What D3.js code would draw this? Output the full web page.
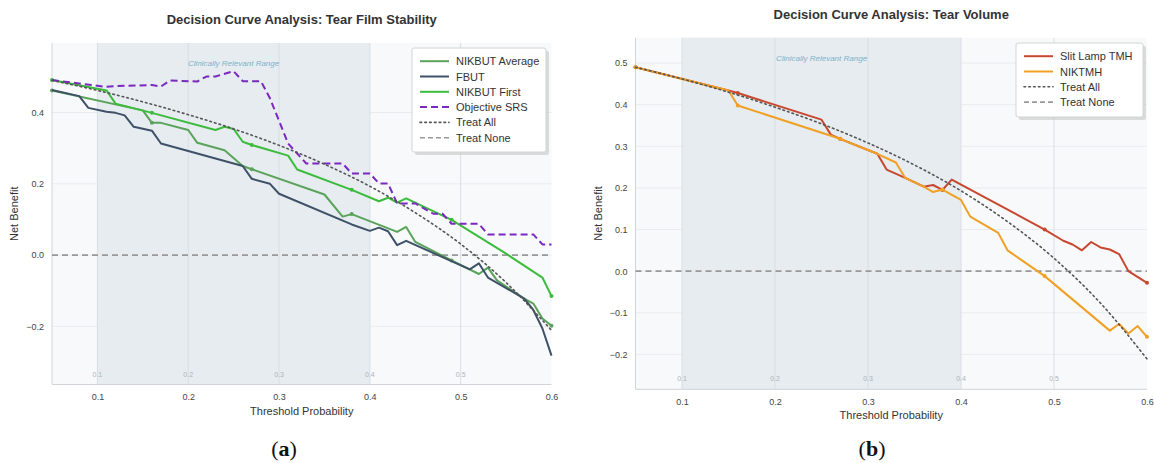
<!DOCTYPE html>
<html>
<head>
<meta charset="utf-8">
<script src="https://cdn.jsdelivr.net/npm/d3@7"></script>
<style>
  body { margin: 0; background: #fff; }
  svg { font-family: "Liberation Sans", Arial, sans-serif; }
</style>
</head>
<body>
<div id="chart"></div>
<script>
// Decision curve analysis, two panels

// threshold ticks shared by both panels
const xTicks = [0.1, 0.2, 0.3, 0.4, 0.5, 0.6];
const bandRange = [0.1, 0.4];

// panel (a): tear film stability, [threshold, net benefit]
const nikbutAverage = [
  [0.05, 0.462], [0.15, 0.406], [0.16, 0.371], [0.17, 0.371], [0.20, 0.351], [0.21, 0.315],
  [0.24, 0.294], [0.26, 0.250], [0.27, 0.241], [0.35, 0.170], [0.37, 0.108], [0.38, 0.115],
  [0.43, 0.065], [0.44, 0.079], [0.45, 0.037], [0.49, -0.015], [0.52, -0.053], [0.53, -0.035],
  [0.54, -0.071], [0.57, -0.122], [0.58, -0.136], [0.59, -0.178], [0.60, -0.198]
];
const fbut = [
  [0.05, 0.463], [0.08, 0.446], [0.09, 0.413], [0.11, 0.402], [0.12, 0.399], [0.13, 0.392],
  [0.14, 0.360], [0.16, 0.349], [0.17, 0.313], [0.26, 0.250], [0.27, 0.214], [0.29, 0.200],
  [0.30, 0.172], [0.38, 0.086], [0.40, 0.068], [0.41, 0.077], [0.42, 0.067], [0.43, 0.028],
  [0.44, 0.040], [0.51, -0.040], [0.52, -0.023], [0.53, -0.063], [0.57, -0.122], [0.58, -0.154],
  [0.59, -0.206], [0.60, -0.282]
];
const nikbutFirst = [
  [0.05, 0.491], [0.11, 0.462], [0.12, 0.425], [0.16, 0.399], [0.23, 0.351], [0.24, 0.360],
  [0.25, 0.354], [0.26, 0.318], [0.27, 0.309], [0.31, 0.279], [0.32, 0.240], [0.38, 0.183],
  [0.41, 0.151], [0.42, 0.161], [0.43, 0.147], [0.44, 0.159], [0.49, 0.099], [0.55, 0.004],
  [0.59, -0.063], [0.60, -0.115]
];
const objectiveSRS = [
  [0.05, 0.491], [0.10, 0.475], [0.11, 0.472], [0.12, 0.474], [0.16, 0.477], [0.17, 0.473],
  [0.18, 0.490], [0.21, 0.487], [0.22, 0.501], [0.23, 0.501], [0.25, 0.516], [0.26, 0.488],
  [0.28, 0.488], [0.29, 0.440], [0.31, 0.313], [0.33, 0.257], [0.37, 0.257], [0.38, 0.229],
  [0.40, 0.229], [0.41, 0.201], [0.42, 0.201], [0.43, 0.145], [0.45, 0.145], [0.47, 0.116],
  [0.48, 0.116], [0.49, 0.088], [0.52, 0.088], [0.53, 0.058], [0.58, 0.058], [0.59, 0.030],
  [0.60, 0.030]
];
// treat-all reference (same prevalence in both panels)
const treatAll = [
  [0.05, 0.490], [0.10, 0.462], [0.15, 0.430], [0.20, 0.394], [0.25, 0.354], [0.30, 0.308],
  [0.35, 0.255], [0.40, 0.193], [0.45, 0.119], [0.50, 0.031], [0.55, -0.077], [0.60, -0.211]
];
const treatNone = [[0.05, 0], [0.60, 0]];

// panel (b): tear volume
const slitLampTMH = [
  [0.05, 0.490], [0.15, 0.434], [0.16, 0.428], [0.25, 0.364], [0.26, 0.328], [0.27, 0.318],
  [0.31, 0.282], [0.32, 0.244], [0.34, 0.224], [0.36, 0.203], [0.37, 0.207], [0.38, 0.195],
  [0.39, 0.220], [0.49, 0.100], [0.51, 0.073], [0.52, 0.064], [0.53, 0.050], [0.54, 0.070],
  [0.55, 0.057], [0.56, 0.052], [0.57, 0.041], [0.58, 0.000], [0.60, -0.028]
];
const niktmh = [
  [0.05, 0.490], [0.15, 0.434], [0.16, 0.398], [0.27, 0.318], [0.31, 0.282], [0.33, 0.261],
  [0.34, 0.224], [0.36, 0.203], [0.37, 0.190], [0.38, 0.196], [0.40, 0.171], [0.41, 0.131],
  [0.44, 0.092], [0.45, 0.050], [0.49, -0.012], [0.56, -0.143], [0.57, -0.127], [0.58, -0.150],
  [0.59, -0.132], [0.60, -0.158]
];

// thresholds where the solid curves carry a small marker
const markerT = [0.05, 0.16, 0.27, 0.38, 0.49, 0.60];

const yTicksA = [-0.2, 0.0, 0.2, 0.4];
const yTicksB = [-0.2, -0.1, 0.0, 0.1, 0.2, 0.3, 0.4, 0.5];

const panels = [
  {
    title: 'Decision Curve Analysis: Tear Film Stability', tag: 'a',
    left: 52, right: 551.5, top: 43, bottom: 384.5, titleY: 23.5, yDomain: [-0.363, 0.595],
    yTicks: yTicksA, tagX: 284,
    legend: { x: 412, y: 48, w: 134, h: 104 },
    series: [
      { name: 'NIKBUT Average', data: nikbutAverage, color: '#5aa35a', dash: null, marks: true },
      { name: 'FBUT', data: fbut, color: '#3f5168', dash: null, marks: false },
      { name: 'NIKBUT First', data: nikbutFirst, color: '#3cbc3c', dash: null, marks: true },
      { name: 'Objective SRS', data: objectiveSRS, color: '#7a28bf', dash: '7,4', marks: false }
    ]
  },
  {
    title: 'Decision Curve Analysis: Tear Volume', tag: 'b',
    left: 635.5, right: 1147, top: 37.7, bottom: 389.3, titleY: 18.5, yDomain: [-0.284, 0.561],
    yTicks: yTicksB, tagX: 872,
    legend: { x: 1016, y: 43, w: 127, h: 74 },
    series: [
      { name: 'Slit Lamp TMH', data: slitLampTMH, color: '#c8472f', dash: null, marks: true },
      { name: 'NIKTMH', data: niktmh, color: '#f0a024', dash: null, marks: true }
    ]
  }
];

const svg = d3.select('#chart').append('svg')
  .attr('width', 1154)
  .attr('height', 463);

panels.forEach(p => {
  const x = d3.scaleLinear().domain([0.05, 0.6]).range([p.left, p.right]);
  const y = d3.scaleLinear().domain(p.yDomain).range([p.bottom, p.top]);
  const g = svg.append('g');

  // plot background and clinically relevant band
  g.append('rect')
    .attr('x', p.left).attr('y', p.top)
    .attr('width', p.right - p.left).attr('height', p.bottom - p.top)
    .attr('fill', '#f8f9fa');
  g.append('rect')
    .attr('x', x(bandRange[0])).attr('y', p.top)
    .attr('width', x(bandRange[1]) - x(bandRange[0])).attr('height', p.bottom - p.top)
    .attr('fill', '#e6ecf0');

  // grid
  g.selectAll('.hgrid').data(p.yTicks).enter().append('line')
    .attr('x1', p.left).attr('x2', p.right)
    .attr('y1', d => y(d)).attr('y2', d => y(d))
    .attr('stroke', '#e9ecef').attr('stroke-width', 1);
  g.selectAll('.vgrid').data(xTicks.slice(0, 5)).enter().append('line')
    .attr('x1', d => x(d)).attr('x2', d => x(d))
    .attr('y1', p.top).attr('y2', p.bottom)
    .attr('stroke', '#d9dee3').attr('stroke-width', 1);

  // faint labels inside the plot, near the bottom
  g.selectAll('.inner').data(xTicks.slice(0, 5)).enter().append('text')
    .attr('x', d => x(d)).attr('y', p.bottom - 8)
    .attr('text-anchor', 'middle')
    .attr('font-size', 7).attr('fill', '#b0b4b8')
    .text(d => d3.format('.1f')(d));

  g.append('text')
    .attr('x', x((bandRange[0] + bandRange[1]) / 2)).attr('y', p.top + 23)
    .attr('text-anchor', 'middle')
    .attr('font-size', 8).attr('font-style', 'italic').attr('fill', '#7db3c8')
    .text('Clinically Relevant Range');

  // spines
  g.append('line').attr('x1', p.left).attr('x2', p.left).attr('y1', p.top).attr('y2', p.bottom)
    .attr('stroke', '#d0d4d8');
  g.append('line').attr('x1', p.left).attr('x2', p.right).attr('y1', p.bottom).attr('y2', p.bottom)
    .attr('stroke', '#d0d4d8');

  // axes
  const xAxis = g.append('g').attr('transform', `translate(0,${p.bottom})`)
    .call(d3.axisBottom(x).tickValues(xTicks).tickFormat(d3.format('.1f')).tickSize(0).tickPadding(9));
  const yAxis = g.append('g').attr('transform', `translate(${p.left},0)`)
    .call(d3.axisLeft(y).tickValues(p.yTicks).tickFormat(d3.format('.1f')).tickSize(0).tickPadding(8));
  [xAxis, yAxis].forEach(a => {
    a.select('.domain').remove();
    a.selectAll('text').attr('font-size', 9).attr('fill', '#444')
      .attr('font-family', '"Liberation Sans", Arial, sans-serif');
  });

  // reference lines
  const line = d3.line().x(d => x(d[0])).y(d => y(d[1]));
  g.append('path').datum(treatNone).attr('d', line)
    .attr('fill', 'none').attr('stroke', '#999').attr('stroke-width', 1.6).attr('stroke-dasharray', '6,4');

  p.series.forEach(s => {
    g.append('path').datum(s.data).attr('d', line)
      .attr('fill', 'none').attr('stroke', s.color).attr('stroke-width', 2)
      .attr('stroke-linejoin', 'round')
      .attr('stroke-dasharray', s.dash);
    if (s.marks) {
      const pts = s.data.filter(d => markerT.some(m => Math.abs(m - d[0]) < 1e-9));
      g.selectAll(null).data(pts).enter().append('circle')
        .attr('cx', d => x(d[0])).attr('cy', d => y(d[1])).attr('r', 2)
        .attr('fill', s.color);
    }
  });

  g.append('path').datum(treatAll).attr('d', line.curve(d3.curveMonotoneX))
    .attr('fill', 'none').attr('stroke', '#555').attr('stroke-width', 1.6)
    .attr('stroke-dasharray', '1.6,3.2').attr('stroke-linecap', 'round');

  // titles and labels
  const cx = (p.left + p.right) / 2;
  svg.append('text').attr('x', cx).attr('y', p.titleY)
    .attr('text-anchor', 'middle').attr('font-size', 13).attr('font-weight', 'bold').attr('fill', '#333')
    .text(p.title);
  svg.append('text').attr('x', cx).attr('y', (p.tag === 'a' ? 415 : 419))
    .attr('text-anchor', 'middle').attr('font-size', 11).attr('fill', '#333')
    .text('Threshold Probability');
  svg.append('text')
    .attr('transform', `translate(${p.left - 34},${(p.top + p.bottom) / 2}) rotate(-90)`)
    .attr('text-anchor', 'middle').attr('font-size', 11).attr('fill', '#333')
    .text('Net Benefit');

  const tag = svg.append('text').attr('x', p.tagX).attr('y', 456)
    .attr('text-anchor', 'middle').attr('font-size', 22)
    .attr('font-family', '"Liberation Serif", "DejaVu Serif", serif').attr('fill', '#111');
  tag.append('tspan').text('(');
  tag.append('tspan').attr('font-weight', 'bold').text(p.tag);
  tag.append('tspan').text(')');

  // legend
  const L = p.legend;
  const items = p.series.map(s => ({ name: s.name, color: s.color, dash: s.dash, w: 2 }))
    .concat([
      { name: 'Treat All', color: '#555', dash: '1.6,3.2', w: 1.6 },
      { name: 'Treat None', color: '#999', dash: '5,3', w: 1.6 }
    ]);
  const lg = svg.append('g');
  lg.append('rect').attr('x', L.x + 3).attr('y', L.y + 3).attr('width', L.w).attr('height', L.h)
    .attr('fill', '#c4c4c4').attr('opacity', 0.6).attr('rx', 2);
  lg.append('rect').attr('x', L.x).attr('y', L.y).attr('width', L.w).attr('height', L.h)
    .attr('fill', '#fff').attr('stroke', '#d4d4d4').attr('rx', 2);
  const row = lg.selectAll('.row').data(items).enter().append('g')
    .attr('transform', (d, i) => `translate(${L.x},${L.y + 13.2 + i * 15.3})`);
  row.append('line').attr('x1', 8).attr('x2', 37).attr('y1', 0).attr('y2', 0)
    .attr('stroke', d => d.color).attr('stroke-width', d => d.w)
    .attr('stroke-dasharray', d => d.dash).attr('stroke-linecap', d => d.name === 'Treat All' ? 'round' : 'butt');
  row.append('text').attr('x', 44).attr('y', 4).attr('font-size', 11).attr('fill', '#333')
    .text(d => d.name);
});
</script>
</body>
</html>
